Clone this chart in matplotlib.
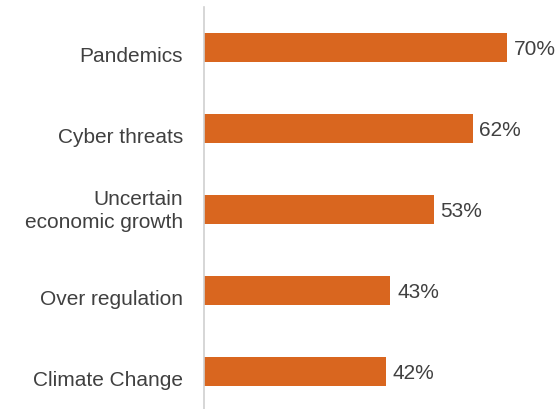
import matplotlib.pyplot as plt
from matplotlib.transforms import ScaledTranslation

categories = ["Pandemics", "Cyber threats", "Uncertain\neconomic growth",
              "Over regulation", "Climate Change"]
values = [70, 62, 53, 43, 42]

BAR = "#D9661F"
TEXT = "#404040"
AXIS = "#D0D0D0"

plt.rcParams["font.family"] = ["Liberation Sans", "DejaVu Sans"]

fig = plt.figure(figsize=(5.6, 4.09), dpi=100)
ax = fig.add_axes([204 / 560, 0, 356 / 560, 1 - 7 / 409])

ypos = list(range(len(categories)))
ax.barh(ypos, values, height=0.36, color=BAR, left=0)

for y, v in zip(ypos, values):
    ax.annotate(f"{v}%", (v, y), xytext=(5, -1.5), textcoords="offset points",
                va="center", ha="left", fontsize=15, color=TEXT)

ax.set_yticks(ypos)
ax.set_yticklabels(categories, fontsize=15, color=TEXT, linespacing=1.3)
ax.tick_params(axis="y", length=0, pad=15)

# single-line labels sit a bit below the bar centre in the original
for lbl in ax.get_yticklabels():
    dy = 2 / 72 if "\n" in lbl.get_text() else -5 / 72
    lbl.set_transform(lbl.get_transform() + ScaledTranslation(0, dy, fig.dpi_scale_trans))

ax.set_xticks([])
ax.set_xlim(0, 82.2)
ax.set_ylim(4.46, -0.5)

for side in ["top", "right", "bottom"]:
    ax.spines[side].set_visible(False)
ax.spines["left"].set_color(AXIS)
ax.spines["left"].set_linewidth(1.2)

fig.savefig("out.png", dpi=100)
